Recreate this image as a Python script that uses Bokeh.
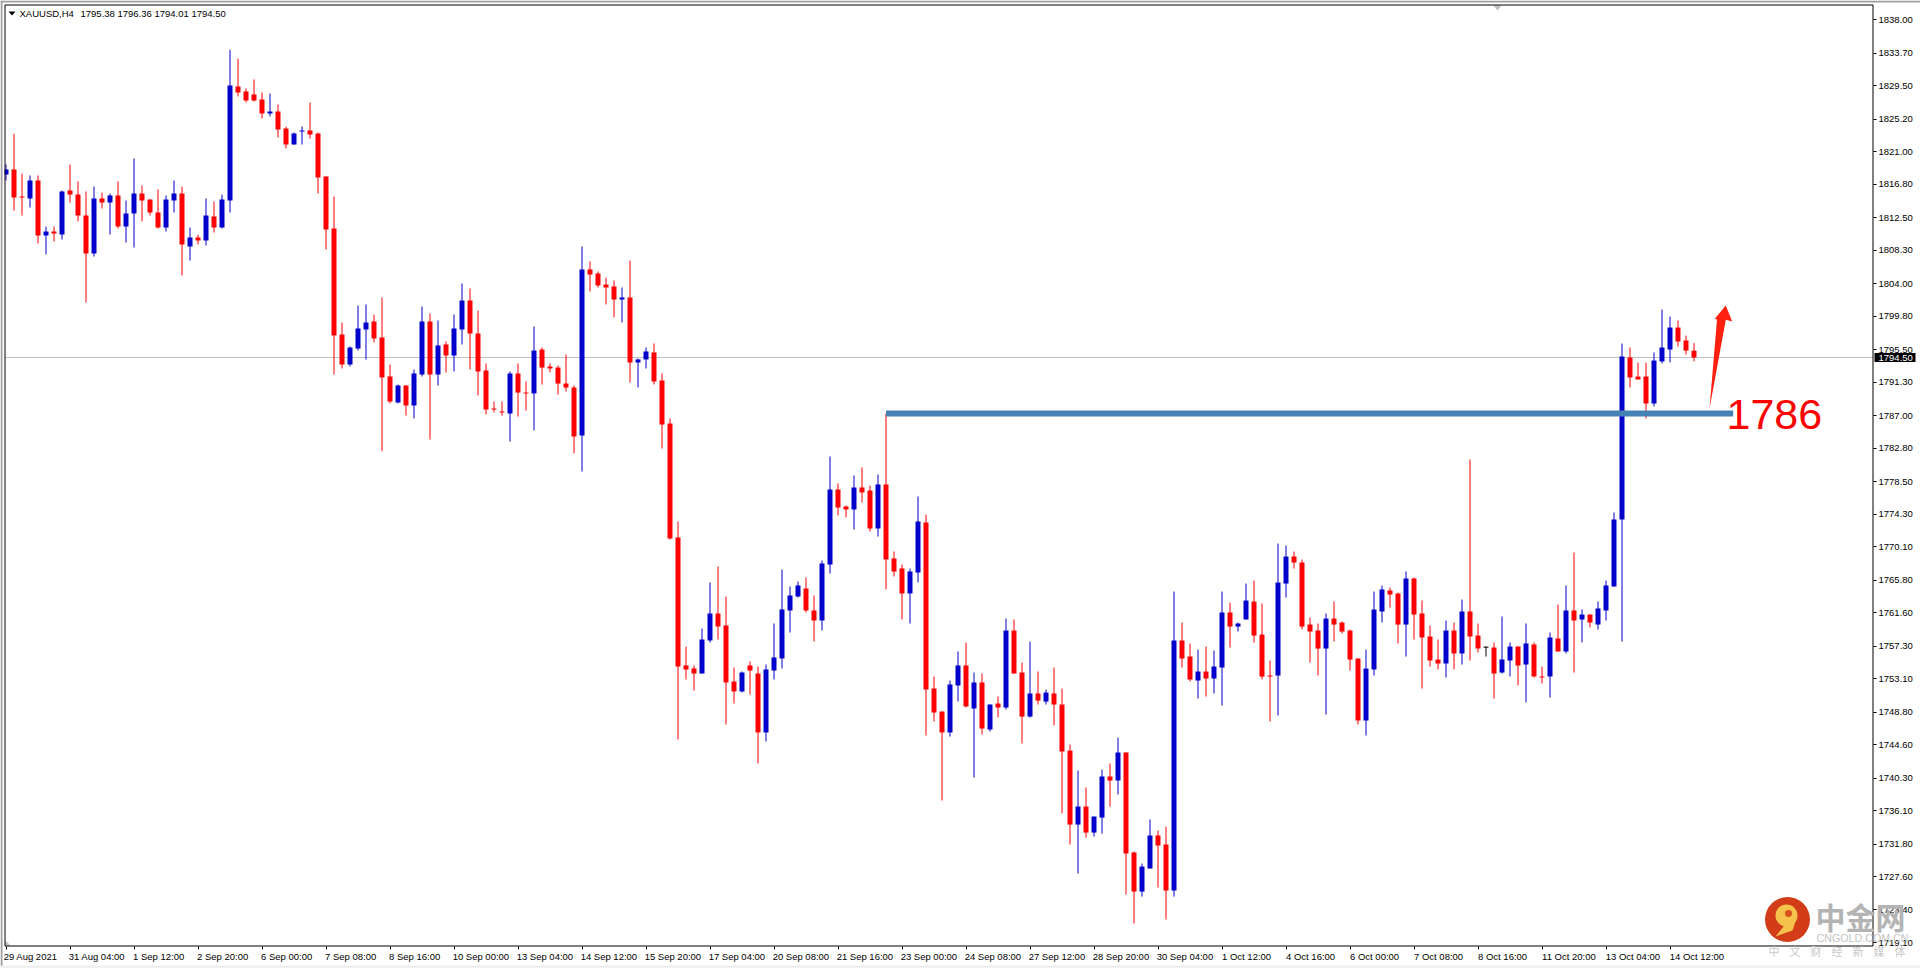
from bokeh.plotting import figure
from bokeh.embed import file_html
from bokeh.resources import INLINE
from bokeh.models import (Range1d, FixedTicker, NumeralTickFormatter, Label,
                          BoxAnnotation, PolyAnnotation)

symbol = "XAUUSD,H4"
last_quote = "1795.38 1796.36 1794.01 1794.50"
last_price = 1794.50
level_price = 1787.29
level_label = "1786"

opens = [
1818.07,1818.71,1815.24,1814.98,1817.30,1810.21,1810.73,1810.34,1816.01,1815.49,
1812.79,1807.90,1814.98,1814.46,1815.37,1811.37,1813.05,1815.62,1814.85,1813.18,
1811.24,1814.72,1815.62,1808.80,1809.96,1809.57,1812.66,1811.24,1814.72,1829.40,
1828.76,1828.37,1827.73,1825.93,1826.18,1823.99,1821.93,1823.61,1823.74,1823.35,
1817.81,1811.12,1797.46,1793.60,1795.66,1798.11,1799.14,1797.08,1792.06,1788.71,
1790.90,1788.32,1792.31,1799.14,1792.31,1796.18,1794.76,1798.11,1801.84,1797.59,
1792.83,1787.93,1787.55,1787.29,1792.44,1789.99,1789.87,1795.53,1793.34,1793.21,
1791.15,1790.64,1784.46,1805.84,1805.32,1803.90,1803.65,1801.97,1802.23,1793.86,
1794.25,1795.15,1791.54,1786.00,1771.32,1754.84,1754.45,1753.80,1758.06,1761.53,
1759.99,1752.77,1751.49,1754.84,1753.80,1746.21,1754.19,1755.74,1761.92,1763.72,
1764.75,1761.92,1760.63,1767.84,1777.50,1775.31,1774.93,1777.76,1777.37,1772.48,
1778.15,1768.62,1767.33,1764.11,1766.81,1773.25,1751.87,1748.91,1746.21,1752.26,
1754.84,1749.30,1752.65,1746.59,1749.94,1749.42,1759.34,1753.93,1748.26,1751.23,
1750.19,1751.23,1749.81,1743.88,1734.35,1736.67,1733.32,1735.25,1740.54,1740.02,
1743.63,1730.75,1725.72,1728.69,1732.94,1731.78,1725.85,1758.05,1755.99,1752.90,
1754.06,1753.16,1754.57,1761.66,1759.85,1760.76,1763.07,1758.82,1753.54,1753.54,
1765.39,1768.87,1768.10,1760.11,1759.34,1757.02,1760.88,1760.37,1759.34,1755.73,
1747.75,1754.32,1761.79,1764.49,1764.10,1760.11,1766.04,1761.53,1758.57,1755.60,
1755.09,1759.34,1756.38,1761.79,1758.69,1757.20,1757.15,1753.93,1755.48,1757.28,
1754.96,1757.54,1753.42,1753.42,1758.31,1756.64,1761.92,1760.76,1761.40,1760.11,
1761.92,1765.01,1773.64,1794.50,1792.05,1792.05,1788.58,1793.99,1795.53,1798.36,
1796.69,1795.38]
highs = [
1819.36,1823.31,1818.20,1817.94,1817.94,1811.37,1811.37,1816.01,1819.36,1817.17,
1815.88,1816.52,1815.75,1815.62,1817.17,1814.72,1820.13,1816.65,1814.85,1816.14,
1815.37,1817.30,1816.52,1811.24,1810.34,1814.98,1814.59,1815.49,1834.13,1833.01,
1829.15,1830.31,1828.63,1828.50,1827.09,1824.25,1823.48,1824.25,1827.34,1823.48,
1817.81,1815.24,1799.01,1795.92,1801.20,1801.33,1800.04,1802.23,1793.60,1791.02,
1790.90,1792.96,1801.07,1800.17,1799.27,1796.56,1800.04,1804.03,1803.39,1800.56,
1793.73,1788.83,1788.83,1792.70,1793.73,1791.41,1798.49,1795.79,1793.73,1793.47,
1794.89,1790.90,1808.80,1806.87,1805.58,1804.80,1804.42,1803.52,1806.99,1794.37,
1795.79,1796.31,1792.44,1786.65,1773.38,1757.28,1754.84,1759.60,1765.53,1767.59,
1763.72,1754.58,1754.06,1755.35,1754.71,1754.96,1760.24,1767.20,1765.01,1765.65,
1766.17,1763.85,1768.36,1781.75,1778.28,1775.44,1779.31,1780.34,1778.02,1779.43,
1787.29,1769.52,1767.84,1767.33,1776.60,1774.28,1753.42,1748.91,1752.90,1756.64,
1757.80,1753.93,1753.80,1749.81,1750.84,1760.88,1760.76,1755.22,1757.92,1754.06,
1751.74,1754.57,1751.87,1744.66,1741.31,1739.12,1735.38,1741.44,1742.21,1745.56,
1743.63,1730.88,1729.33,1735.00,1733.58,1734.10,1764.36,1760.37,1757.66,1756.89,
1757.28,1756.76,1764.36,1762.95,1760.37,1765.39,1765.78,1762.82,1755.48,1770.54,
1770.29,1769.51,1768.48,1761.01,1760.24,1761.53,1763.07,1760.50,1759.47,1755.73,
1756.89,1764.36,1765.13,1764.88,1764.23,1766.94,1766.16,1763.20,1759.98,1758.18,
1760.63,1760.37,1763.33,1781.36,1760.24,1757.28,1757.80,1761.14,1757.80,1757.28,
1760.24,1757.80,1754.71,1759.08,1762.69,1765.14,1769.39,1762.05,1761.40,1763.08,
1765.78,1774.54,1796.30,1795.79,1793.86,1793.86,1795.15,1800.68,1799.78,1799.27,
1797.33,1796.36]
lows = [
1817.30,1813.43,1812.79,1813.82,1809.18,1807.77,1809.44,1809.70,1814.46,1812.02,
1801.59,1807.51,1813.69,1810.34,1811.12,1809.31,1808.67,1812.02,1812.79,1811.12,
1810.73,1813.18,1805.06,1806.99,1809.06,1808.93,1810.60,1811.12,1813.18,1828.12,
1827.34,1827.47,1825.28,1825.54,1822.84,1821.42,1821.93,1821.93,1822.71,1815.62,
1808.41,1792.31,1793.09,1793.34,1795.40,1794.24,1796.43,1782.44,1788.58,1788.58,
1787.03,1786.65,1792.06,1783.94,1790.90,1792.57,1792.70,1796.18,1792.96,1789.61,
1787.16,1787.42,1787.03,1783.68,1786.90,1787.68,1785.10,1791.02,1792.57,1789.74,
1790.12,1782.14,1779.82,1803.00,1803.52,1801.33,1799.65,1799.01,1791.28,1790.64,
1793.09,1791.03,1782.78,1771.06,1745.30,1753.03,1751.62,1753.80,1757.80,1758.18,
1747.24,1749.94,1751.36,1751.10,1742.21,1745.05,1753.03,1754.45,1759.09,1763.59,
1761.66,1757.93,1759.34,1766.68,1774.15,1773.90,1772.35,1775.83,1772.09,1771.45,
1764.62,1766.30,1760.76,1760.24,1765.53,1745.82,1747.62,1737.45,1745.69,1750.20,
1749.43,1740.41,1745.95,1746.33,1748.14,1749.16,1753.80,1744.79,1748.13,1749.81,
1749.81,1747.10,1735.77,1731.78,1728.04,1732.68,1732.81,1733.19,1736.67,1738.22,
1725.34,1721.60,1725.08,1728.69,1726.24,1722.12,1725.08,1754.57,1752.77,1750.58,
1750.84,1751.23,1749.68,1757.15,1759.21,1760.76,1757.79,1753.03,1747.62,1748.39,
1763.59,1767.32,1759.47,1755.22,1753.54,1748.52,1757.92,1758.95,1754.19,1747.23,
1745.82,1753.54,1760.37,1762.30,1757.66,1755.99,1758.18,1751.87,1754.70,1754.32,
1753.29,1754.32,1754.96,1755.48,1756.51,1755.99,1750.58,1753.80,1753.42,1752.26,
1750.07,1753.29,1752.52,1750.71,1756.64,1756.38,1753.93,1757.80,1759.73,1759.47,
1760.63,1765.01,1757.92,1790.64,1791.67,1786.64,1788.19,1793.73,1793.86,1795.92,
1794.89,1794.01]
closes = [
1818.71,1815.11,1815.11,1817.30,1810.21,1810.73,1810.47,1815.88,1815.49,1812.79,
1807.90,1814.98,1814.46,1815.37,1811.37,1813.05,1815.62,1814.72,1813.18,1811.24,
1814.85,1815.62,1809.06,1809.96,1809.57,1812.79,1811.24,1814.85,1829.53,1828.63,
1827.60,1827.60,1825.93,1826.18,1823.87,1821.93,1823.35,1823.74,1823.22,1817.68,
1810.99,1797.34,1793.60,1795.79,1798.24,1799.01,1796.95,1791.93,1788.83,1790.90,
1788.32,1792.44,1799.14,1792.31,1796.05,1794.76,1798.24,1801.84,1797.59,1792.70,
1787.80,1787.80,1787.42,1792.44,1789.99,1789.87,1795.40,1793.21,1793.09,1791.15,
1790.64,1784.33,1805.84,1805.19,1803.78,1803.52,1801.97,1802.23,1793.86,1794.25,
1795.28,1791.41,1785.87,1771.19,1754.71,1754.32,1753.80,1758.18,1761.53,1759.86,
1752.65,1751.49,1753.93,1754.19,1746.21,1754.32,1755.87,1762.05,1763.85,1765.14,
1761.92,1760.63,1767.97,1777.50,1775.18,1774.93,1777.76,1777.12,1772.48,1778.15,
1768.49,1766.94,1764.11,1766.94,1773.38,1751.74,1748.78,1746.21,1752.39,1754.84,
1749.56,1752.65,1746.72,1749.81,1749.42,1759.34,1753.80,1748.26,1751.23,1750.32,
1751.35,1749.81,1743.76,1734.35,1736.67,1733.32,1735.38,1740.54,1740.02,1743.63,
1730.62,1725.72,1728.94,1732.94,1731.65,1725.85,1758.05,1755.73,1753.03,1754.06,
1753.16,1754.70,1761.66,1759.85,1760.24,1763.20,1758.69,1753.41,1753.41,1765.52,
1768.87,1768.10,1759.85,1759.21,1757.02,1760.88,1760.11,1759.21,1755.60,1747.75,
1754.44,1762.04,1764.62,1763.98,1760.11,1766.04,1761.40,1758.44,1755.48,1755.09,
1759.34,1756.38,1761.79,1758.57,1757.02,1757.20,1753.80,1755.61,1757.28,1754.83,
1757.67,1753.42,1753.29,1758.44,1756.64,1761.92,1760.63,1761.40,1760.37,1762.18,
1765.14,1773.64,1794.63,1791.93,1791.67,1788.58,1794.11,1795.79,1798.36,1796.56,
1795.40,1794.50]

price_ticks = [1838.0,1833.7,1829.5,1825.2,1821.0,1816.8,1812.5,1808.3,1804.0,1799.8,
               1795.5,1791.3,1787.0,1782.8,1778.5,1774.3,1770.1,1765.8,1761.6,1757.3,
               1753.1,1748.8,1744.6,1740.3,1736.1,1731.8,1727.6,1723.4,1719.1]
time_labels = ["29 Aug 2021","31 Aug 04:00","1 Sep 12:00","2 Sep 20:00","6 Sep 00:00","7 Sep 08:00",
               "8 Sep 16:00","10 Sep 00:00","13 Sep 04:00","14 Sep 12:00","15 Sep 20:00","17 Sep 04:00",
               "20 Sep 08:00","21 Sep 16:00","23 Sep 00:00","24 Sep 08:00","27 Sep 12:00","28 Sep 20:00",
               "30 Sep 04:00","1 Oct 12:00","4 Oct 16:00","6 Oct 00:00","7 Oct 08:00","8 Oct 16:00",
               "11 Oct 20:00","13 Oct 04:00","14 Oct 12:00"]
BARS_PER_TICK = 8

# page-pixel helpers for decorations only: the frame is the whole canvas,
# the chart's box spans x 4..1873, y 4..946 and the axes are pinned to it
def X(px): return (px - 5.5) / 8.0
def Y(py): return 1840.48 - 0.12879 * py

FONT = "Liberation Sans"
CN = "Noto Sans CJK SC"

p = figure(width=1920, height=968, output_backend="svg", toolbar_location=None,
           x_range=Range1d(X(0), X(1920)), y_range=Range1d(Y(968), Y(0)),
           y_axis_location="right", min_border=0,
           background_fill_color="white", border_fill_color="white",
           outline_line_color=None)
p.grid.visible = False

# axes
ya = p.yaxis[0]
ya.fixed_location = X(1873)
ya.ticker = FixedTicker(ticks=price_ticks)
ya.formatter = NumeralTickFormatter(format="0.00")
ya.major_tick_out = 3; ya.major_tick_in = 0
ya.minor_tick_line_color = None
ya.axis_line_color = None; ya.major_tick_line_color = "black"
ya.major_label_text_font = FONT; ya.major_label_text_font_size = "9.5px"
ya.major_label_text_color = "black"; ya.major_label_standoff = 2

tick_pos = [k * BARS_PER_TICK for k in range(len(time_labels))]
label_pos = [round(t + (len(s) * 4.65 / 2 - 1) / 8.0, 3) for t, s in zip(tick_pos, time_labels)]
xa = p.xaxis[0]
xa.fixed_location = Y(946)
xa.ticker = FixedTicker(ticks=label_pos, minor_ticks=tick_pos)
xa.major_label_overrides = dict(zip(label_pos, time_labels))
xa.major_tick_line_color = None; xa.major_tick_out = 3; xa.major_tick_in = 0
xa.minor_tick_line_color = "black"; xa.minor_tick_out = 3; xa.minor_tick_in = 0
xa.axis_line_color = None
xa.major_label_text_font = FONT; xa.major_label_text_font_size = "9.5px"
xa.major_label_text_color = "black"; xa.major_label_standoff = 1

# current price line
p.segment([X(4)], [last_price], [X(1873)], [last_price], line_color="#c0c0c0", line_width=1)

# candles
idx = list(range(len(opens)))
UP, DOWN, FLAT = "#0000cd", "#ff0000", "#000000"
colors = [UP if c > o else (DOWN if c < o else FLAT) for o, c in zip(opens, closes)]
p.segment(idx, highs, idx, lows, line_color=colors, line_width=1)
body_i = [i for i in idx if opens[i] != closes[i]]
p.vbar(body_i, width=5/8.0,
       top=[max(opens[i], closes[i]) for i in body_i],
       bottom=[min(opens[i], closes[i]) for i in body_i],
       fill_color=[colors[i] for i in body_i], line_color=None)
flat_i = [i for i in idx if opens[i] == closes[i]]
p.rect(flat_i, [opens[i] for i in flat_i], width=5/8.0, height=1, height_units="screen",
       fill_color=FLAT, line_color=None)

# support level, arrow, label
p.segment([110], [level_price], [215.9], [level_price], line_color="#4682b4", line_width=6, line_cap="butt")
p.patch([X(1709), X(1716.5), X(1714.3), X(1725.3), X(1731.7), X(1725.3)],
        [Y(408.3), Y(319), Y(318.3), Y(305), Y(321), Y(319.3)],
        fill_color="#ff2010", line_color=None)
p.add_layout(Label(x=X(1726), y=Y(413.5), text=level_label, text_color="#ff0000", text_font=FONT,
                   text_font_size="43px", text_align="left", text_baseline="middle"))

def box(l, r, t, b, fill, line=None):
    p.add_layout(BoxAnnotation(left=X(l), right=X(r), top=Y(t), bottom=Y(b),
                               fill_color=fill, fill_alpha=1 if fill else 0, line_color=line, line_alpha=1))
def label(x, y, txt, col, font=FONT, size="9.5px", style="normal"):
    p.add_layout(Label(x=X(x), y=Y(y), text=txt, text_color=col, text_font=font, text_font_size=size,
                       text_font_style=style, text_align="left", text_baseline="middle"))

# header
p.add_layout(PolyAnnotation(xs=[X(8), X(15), X(11.5)], ys=[Y(11), Y(11), Y(15)],
                            fill_color="black", fill_alpha=1, line_color=None))
label(19, 13, symbol, "black")
label(80, 13, last_quote, "black")

# shift markers
p.add_layout(PolyAnnotation(xs=[X(1493), X(1501), X(1497)], ys=[Y(5), Y(5), Y(10)],
                            fill_color="#c0c0c0", fill_alpha=1, line_color=None))
p.add_layout(PolyAnnotation(xs=[X(5), X(5), X(10)], ys=[Y(940), Y(945), Y(945)],
                            fill_color="#c0c0c0", fill_alpha=1, line_color=None))

# window chrome and chart box
box(2, 4, 2, 946, "white")
box(4.5, 1872.5, 4.5, 945.5, None, "black")
box(0, 1920, 0, 2, "#a0a0a0")
box(0, 2, 0, 966, "#a0a0a0")
box(0, 1920, 965, 968, "#f0f0f0")

# price tag
box(1874, 1915, 352.5, 361.5, "black")
label(1878, 357, "%.2f" % last_price, "white")

# watermark
p.scatter([X(1787)], [Y(919)], size=45, marker="circle", fill_color="#d23c18", line_color=None)
p.scatter([X(1786)], [Y(915)], size=22, marker="circle", fill_color="#f5c24c", line_color=None)
p.scatter([X(1788)], [Y(913)], size=7, marker="circle", fill_color="#d8501c", line_color=None)
p.patch([X(1796), X(1792), X(1775), X(1783)], [Y(918), Y(930), Y(936), Y(926)],
        fill_color="#f5c24c", line_color=None)
label(1815, 915, "中金网", "#b4b4b4", CN, "30px", "bold")
label(1816, 937, "CNGOLD.COM.CN", "#c4c4c4", FONT, "10.7px")
for k, ch in enumerate("中文财经新媒体"):
    label(1768 + k * 21, 950, ch, "#c8c8c8", CN, "11px")

open("out.html", "w").write(file_html(p, INLINE))
